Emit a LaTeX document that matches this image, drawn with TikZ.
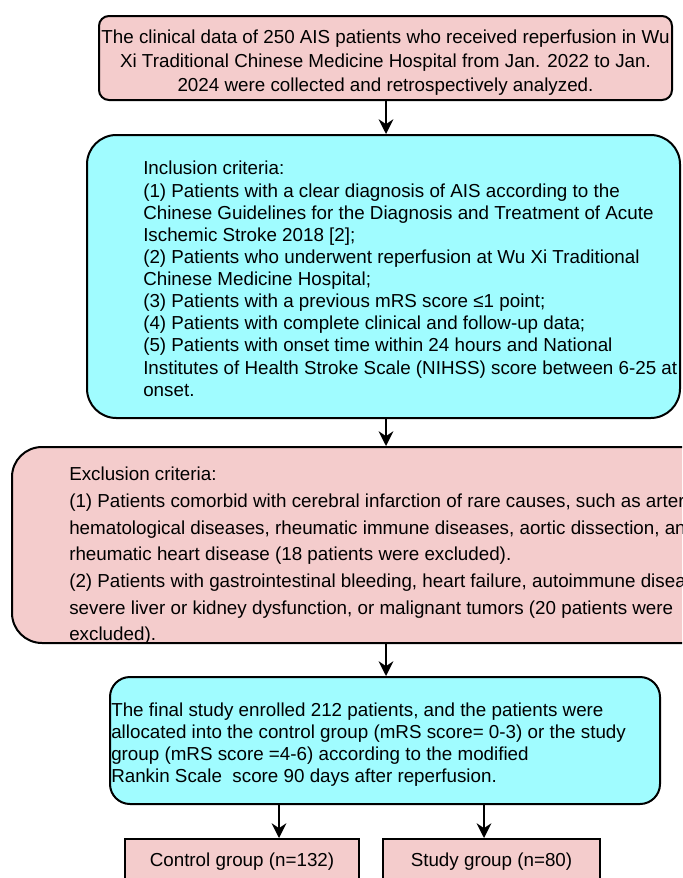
\documentclass[tikz,border=0pt]{standalone}
\usepackage{fontspec}
\setmainfont{Liberation Sans}
\usetikzlibrary{arrows.meta}
\definecolor{boxpink}{RGB}{244,204,204}
\definecolor{boxcyan}{RGB}{160,252,255}

\begin{document}
\begin{tikzpicture}[x=0.75pt, y=-0.75pt,
    pinkbox/.style={draw=black, line width=1.5pt, fill=boxpink, inner sep=0pt},
    cyanbox/.style={draw=black, line width=1.5pt, fill=boxcyan, inner sep=0pt},
    boxtext/.style={inner sep=0pt, align=left, anchor=north west},
    flow/.style={line width=1.5pt, -{Stealth[length=11pt, width=11pt]}}]
  \useasboundingbox (0,0) rectangle (682,878);
  \clip (0,0) rectangle (682,878);

  \coordinate (axis) at (386,0);
  \coordinate (ctrlx) at (279,0);
  \coordinate (stdyx) at (484,0);

  \node [pinkbox, rounded corners=7.5pt, minimum width=429.75pt, minimum height=63pt] (src) at (385.5,58) {}; % Draws a rectangle
  \node [inner sep=0pt, align=center, font=\fontsize{14.1}{18}\selectfont] (srctxt) at (385.5,63) {The clinical data of 250 AIS patients who received reperfusion in Wu\\Xi Traditional Chinese Medicine Hospital from Jan. 2022 to Jan.\\2024 were collected and retrospectively analyzed.};

  \node [cyanbox, rounded corners=22pt, minimum width=444.75pt, minimum height=212.25pt] (incl) at (383.5,276.5) {}; % Draws a rectangle
  \node [boxtext, font=\fontsize{14.1}{16.6}\selectfont] (incltxt) at (143,161) {Inclusion criteria:\\(1) Patients with a clear diagnosis of AIS according to the\\Chinese Guidelines for the Diagnosis and Treatment of Acute\\Ischemic Stroke 2018 [2];\\(2) Patients who underwent reperfusion at Wu Xi Traditional\\Chinese Medicine Hospital;\\(3) Patients with a previous mRS score ≤1 point;\\(4) Patients with complete clinical and follow-up data;\\(5) Patients with onset time within 24 hours and National\\Institutes of Health Stroke Scale (NIHSS) score between 6-25 at\\onset.};

  \node [pinkbox, rounded corners=22.5pt, minimum width=531pt, minimum height=147pt] (excl) at (366,545) {}; % Draws a rectangle
  \node [boxtext, font=\fontsize{14.1}{20}\selectfont] (excltxt) at (69,467) {Exclusion criteria:\\(1) Patients comorbid with cerebral infarction of rare causes, such as arter\\hematological diseases, rheumatic immune diseases, aortic dissection, an\\rheumatic heart disease (18 patients were excluded).\\(2) Patients with gastrointestinal bleeding, heart failure, autoimmune disea\\severe liver or kidney dysfunction, or malignant tumors (20 patients were\\excluded).};

  \node [cyanbox, rounded corners=15pt, minimum width=412.5pt, minimum height=95.25pt] (fin) at (385,740.5) {}; % Draws a rectangle
  \node [boxtext, font=\fontsize{14.1}{16.3}\selectfont] (fintxt) at (111,703) {The final study enrolled 212 patients, and the patients were\\allocated into the control group (mRS score= 0-3) or the study\\group (mRS score =4-6) according to the modified\\Rankin Scale~ score 90 days after reperfusion.};

  \node [pinkbox, minimum width=175.5pt, minimum height=34.5pt, font=\fontsize{14.1}{17}\selectfont] (ctrl) at (242,862) {Control group (n=132)}; % Draws a rectangle
  \node [pinkbox, minimum width=162.75pt, minimum height=34.5pt, font=\fontsize{14.1}{17}\selectfont] (stdy) at (491.5,862) {Study group (n=80)}; % Draws a rectangle

  \draw [flow] (src.south -| axis) to (incl.north -| axis);
  \draw [flow] (incl.south -| axis) to (excl.north -| axis);
  \draw [flow] (excl.south -| axis) to (fin.north -| axis);

  \draw [flow] (fin.south -| ctrlx) to (ctrl.north -| ctrlx);
  \draw [flow] (fin.south -| stdyx) to (stdy.north -| stdyx);
\end{tikzpicture}
\end{document}
